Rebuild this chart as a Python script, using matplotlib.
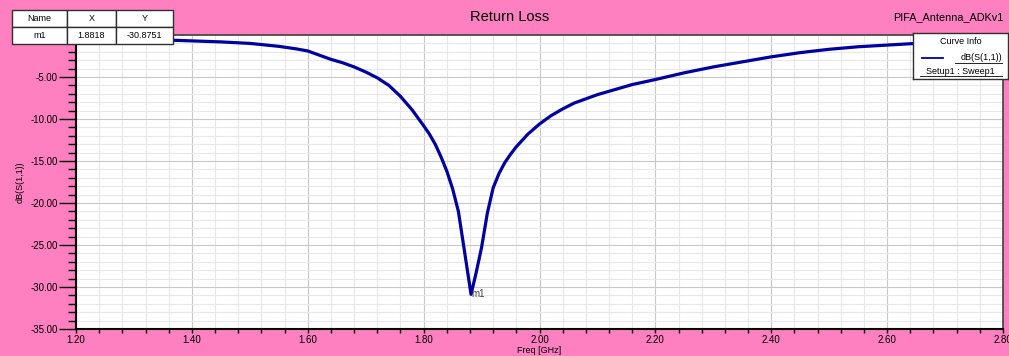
import matplotlib
matplotlib.use("Agg")
import matplotlib.pyplot as plt
from matplotlib.ticker import MultipleLocator
from matplotlib.lines import Line2D

plt.rcParams['font.family'] = ['Liberation Sans', 'DejaVu Sans']

# ── data
freq = [1.20, 1.25, 1.30, 1.35, 1.40, 1.45, 1.50, 1.55, 1.58, 1.60, 1.62,
        1.64, 1.66, 1.68, 1.70, 1.72, 1.74, 1.76, 1.78, 1.80, 1.81, 1.82,
        1.83, 1.84, 1.85, 1.86, 1.87, 1.8818, 1.89, 1.90, 1.91, 1.92, 1.93,
        1.94, 1.95, 1.96, 1.98, 2.00, 2.02, 2.04, 2.06, 2.08, 2.10, 2.13,
        2.16, 2.20, 2.25, 2.30, 2.35, 2.40, 2.45, 2.50, 2.55, 2.60, 2.65,
        2.70, 2.75, 2.80]
s11 = [-0.35, -0.4, -0.5, -0.58, -0.7, -0.82, -1.0, -1.35, -1.65, -1.9, -2.4,
       -2.9, -3.3, -3.8, -4.4, -5.1, -6.0, -7.3, -8.9, -10.8, -11.8, -13.0,
       -14.5, -16.2, -18.3, -21.0, -25.5, -30.8751, -28.5, -25.3, -21.2, -18.2, -16.5,
       -15.2, -14.2, -13.3, -11.8, -10.6, -9.6, -8.8, -8.1, -7.6, -7.1, -6.5,
       -5.9, -5.3, -4.5, -3.8, -3.2, -2.6, -2.1, -1.7, -1.4, -1.2, -1.0,
       -0.9, -0.8, -0.7]

marker_name = "m1"
marker_x = 1.8818
marker_y = -30.8751

table_cols = ["Name", "X", "Y"]
table_row = [marker_name, f"{marker_x:.4f}", f"{marker_y:.4f}"]

PINK = "#FF80C0"
W, H = 1009, 356

fig = plt.figure(figsize=(W / 100, H / 100), dpi=100, facecolor=PINK)
ax = fig.add_axes([76 / W, 1 - 329 / H, (1003 - 76) / W, (329 - 35) / H])
ax.set_facecolor("white")

ax.plot(freq, s11, color="#0000A0", lw=2.3, zorder=3)
ax.text(marker_x, marker_y, marker_name, fontsize=7, color="#404040",
        ha="left", va="center", zorder=4)

ax.set_xlim(1.2, 2.8)
ax.set_ylim(-35, 0)
ax.xaxis.set_major_locator(MultipleLocator(0.2))
ax.xaxis.set_minor_locator(MultipleLocator(0.04))
ax.yaxis.set_major_locator(MultipleLocator(5))
ax.yaxis.set_minor_locator(MultipleLocator(1))
ax.set_xticklabels([f"{v:.2f}" for v in ax.get_xticks()])
ax.set_yticks([-35, -30, -25, -20, -15, -10, -5])
ax.set_yticklabels([f"{v:.2f}" for v in ax.get_yticks()])

ax.grid(which="major", color="#C8C8C8", lw=0.8)
ax.grid(which="minor", color="#E8E8E8", lw=0.8)
ax.set_axisbelow(True)

ax.tick_params(axis="y", which="major", direction="out", length=12, width=1,
               labelsize=7, pad=1)
ax.tick_params(axis="y", which="minor", direction="out", length=6, width=1)
ax.tick_params(axis="x", which="both", direction="out", length=3, width=1,
               labelsize=7, pad=1)

for side in ["left", "bottom"]:
    ax.spines[side].set_linewidth(1.5)
    ax.spines[side].set_color("black")
for side in ["top", "right"]:
    ax.spines[side].set_linewidth(1.2)
    ax.spines[side].set_color("#404040")

ax.set_xlabel("Freq [GHz]", fontsize=6.5, labelpad=1)
ax.set_ylabel("dB(S(1,1))", fontsize=6.5, labelpad=4)

fig.text(510 / W, 1 - 17 / H, "Return Loss", fontsize=10.5, ha="center", va="center")
fig.text(893 / W, 1 - 17 / H, "PIFA_Antenna_ADKv1", fontsize=7.8, ha="left", va="center")

# ── marker table (top left)
tax = fig.add_axes([12 / W, 1 - 44 / H, 161 / W, 34 / H])
tax.axis("off")
tbl = tax.table(cellText=[table_row], colLabels=table_cols, cellLoc="center",
                bbox=[0, 0, 1, 1], colWidths=[55, 49, 57])
tbl.auto_set_font_size(False)
tbl.set_fontsize(6.5)
for cell in tbl.get_celld().values():
    cell.set_edgecolor("#303030")
    cell.set_linewidth(1)
    cell.set_facecolor("white")

# ── curve info box (top right)
lax = fig.add_axes([913 / W, 1 - 79 / H, 95 / W, 46 / H])
lax.set_xlim(0, 95)
lax.set_ylim(46, 0)
lax.set_xticks([])
lax.set_yticks([])
lax.set_facecolor("white")
for s in lax.spines.values():
    s.set_color("#303030")
    s.set_linewidth(1)
lax.text(47.5, 9, "Curve Info", fontsize=6.5, ha="center", va="center")
lax.add_line(Line2D([9, 30], [25, 25], color="#0000A0", lw=1.3))
lax.text(89, 25, "dB(S(1,1))", fontsize=6.5, ha="right", va="center")
lax.plot([42, 89], [29.5, 29.5], color="black", lw=0.6)
lax.text(47, 38, "Setup1 : Sweep1", fontsize=6.5, ha="center", va="center")
lax.plot([7, 89], [42.5, 42.5], color="black", lw=0.6)

fig.savefig("out.png", dpi=100, facecolor=PINK)
